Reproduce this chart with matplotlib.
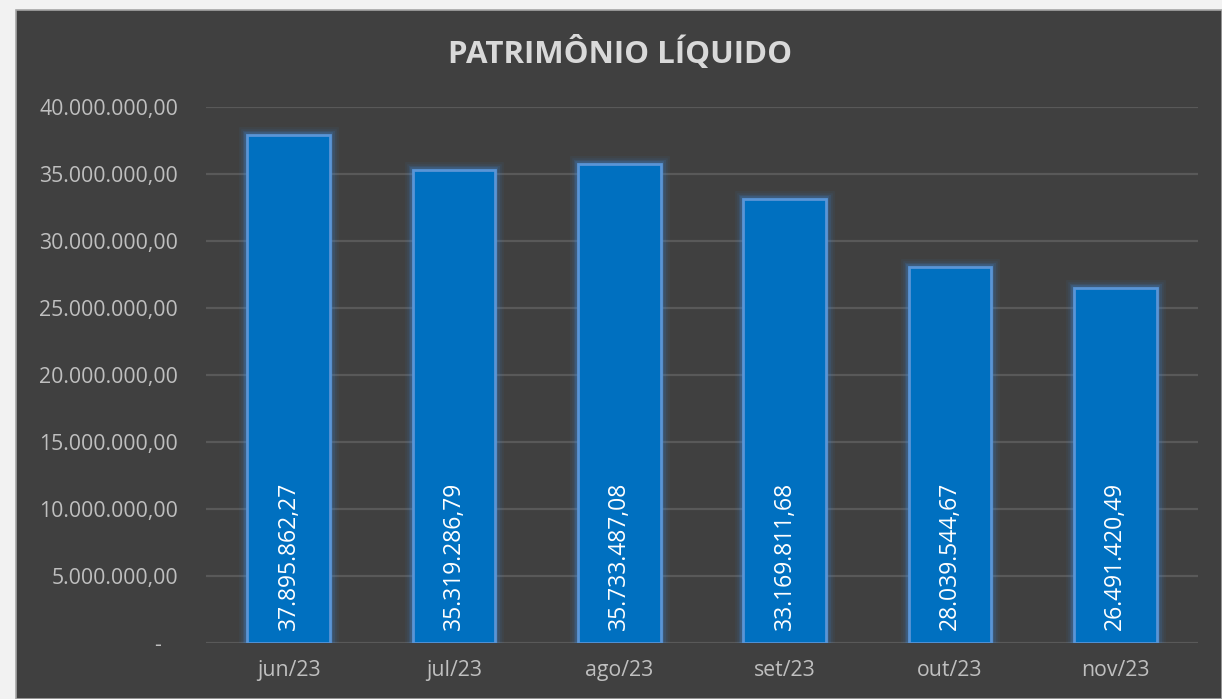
import matplotlib
matplotlib.use("Agg")
import matplotlib.pyplot as plt
from matplotlib.patches import Rectangle
from matplotlib.ticker import FuncFormatter, MultipleLocator

months = ["jun/23", "jul/23", "ago/23", "set/23", "out/23", "nov/23"]
values = [37895862.27, 35319286.79, 35733487.08, 33169811.68, 28039544.67, 26491420.49]
title = "PATRIMÔNIO LÍQUIDO"

def br(v):
    s = f"{v:,.2f}"
    return s.replace(",", "X").replace(".", ",").replace("X", ".")

W, H = 1222, 699
fig = plt.figure(figsize=(W / 100, H / 100), dpi=100, facecolor="#f2f2f2")
bg = Rectangle((16 / W, 0), 1 - 16 / W, 1 - 10 / H, transform=fig.transFigure,
               facecolor="#404040", edgecolor="#a6a6a6", linewidth=1.2, zorder=-10)
fig.patches.append(bg)

ax = fig.add_axes([206 / W, 1 - 643 / H, (1198 - 206) / W, (643 - 107) / H])
ax.set_zorder(5)
ax.set_facecolor("none")
ax.set_xlim(-0.5, len(months) - 0.5)
ax.set_ylim(0, 40_000_000)

font = "Open Sans"
x = list(range(len(months)))
# glow
for lw, a in [(12, 0.06), (9, 0.08), (6.5, 0.12), (4, 0.2)]:
    ax.bar(x, values, width=0.5, color="none", edgecolor="#3d8fe6", linewidth=lw, alpha=a, zorder=2)
ax.bar(x, values, width=0.5, color="#0070C0", edgecolor="#5a95d6", linewidth=2, zorder=3)

for xi, v in zip(x, values):
    ax.annotate(br(v), (xi, 0), xytext=(0, 13), textcoords="offset pixels", rotation=90,
                ha="center", va="bottom", color="white", fontsize=16.5, family=font, zorder=4)

ax.yaxis.set_major_locator(MultipleLocator(5_000_000))
ax.yaxis.set_major_formatter(FuncFormatter(lambda v, p: "-   " if v == 0 else br(v)))
ax.grid(axis="y", color="#595959", linewidth=1.6, zorder=1)
ax.set_axisbelow(True)
for s in ax.spines.values():
    s.set_visible(False)
ax.tick_params(axis="both", length=0, colors="#bfbfbf", labelsize=15.3)
ax.tick_params(axis="y", pad=20)
ax.tick_params(axis="x", pad=12)
ax.set_xticks(x)
ax.set_xticklabels(months)
for lab in ax.get_xticklabels() + ax.get_yticklabels():
    lab.set_family(font)

fig.text(620 / W, 1 - 53 / H, title, ha="center", va="center", color="#d9d9d9",
         fontsize=22.5, fontweight="bold", family=font)

fig.savefig("out.png", dpi=100, facecolor=fig.get_facecolor())
